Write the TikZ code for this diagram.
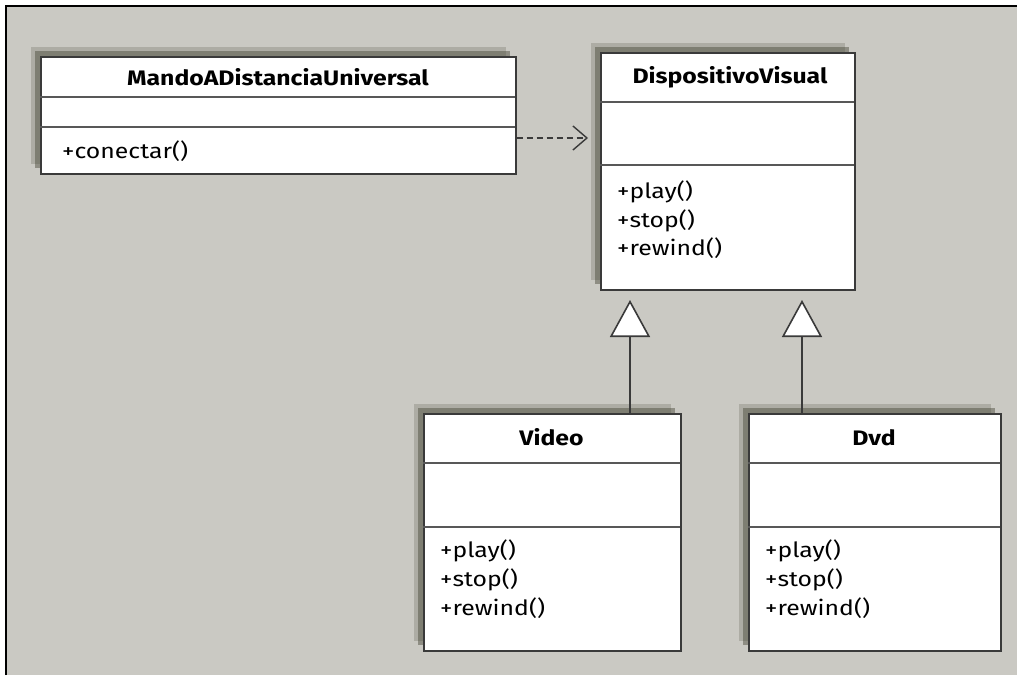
\documentclass[tikz,border=0pt]{standalone}
\usepackage{fontspec}
\setmainfont{Fira Sans}[FakeStretch=1.18]
\usetikzlibrary{arrows.meta,calc}
\definecolor{bg}{RGB}{202,201,195}
\definecolor{edge}{RGB}{58,58,58}
\definecolor{shd}{RGB}{70,70,55}
\tikzset{
  cls/.style={draw=edge, line width=1.6pt, fill=white, inner sep=0pt, anchor=north west, rectangle},
  ttl/.style={font=\bfseries\fontsize{21}{24}\selectfont, inner sep=0pt, anchor=base},
  mth/.style={font=\fontsize{21}{26}\selectfont, inner sep=0pt, anchor=base west},
  divline/.style={draw=edge!85, line width=1.3pt},
  conn/.style={draw=edge, line width=1.8pt},
  gen/.style={conn, -{Triangle[length=37pt,width=40pt,fill=white,line width=1.6pt]}},
  dep/.style={draw=edge, line width=1.4pt, dash pattern=on 6pt off 4pt, -{Straight Barb[length=14pt,width=24pt,line width=1.4pt]}},
}
\newcommand\boxshadow[4]{%
  \fill[shd, opacity=.22] (#1-9,#2-9) rectangle (#3-9,#4-9);
  \fill[shd, opacity=.45] (#1-5,#2-5) rectangle (#3-5,#4-5);}
\begin{document}
\begin{tikzpicture}[x=1pt,y=-1pt]
\useasboundingbox (0,0) rectangle (1017,675);
\fill[white] (0,0) rectangle (1017,675);
\fill[bg] (6,6) rectangle (1017,675);
\draw[black, line width=2.6pt] (6,675) -- (6,6) -- (1017,6);

% shadows
\boxshadow{40}{56}{515}{173}
\boxshadow{600}{52}{854}{289}
\boxshadow{423}{413}{680}{650}
\boxshadow{748}{413}{1000}{650}

% MandoADistanciaUniversal
\node[cls, minimum width=475pt, minimum height=117pt] (mando) at (40,56) {};
\draw[divline] (40,97) -- (515,97);
\draw[divline] (40,127) -- (515,127);
\node[ttl] (mandoT) at (278,85) {MandoADistanciaUniversal};
\node[mth] (mandoM1) at (62,158) {+conectar()};

% DispositivoVisual
\node[cls, minimum width=254pt, minimum height=237pt] (disp) at (600,52) {};
\draw[divline] (600,102) -- (854,102);
\draw[divline] (600,165) -- (854,165);
\node[ttl] (dispT) at (730,83) {DispositivoVisual};
\node[mth] (dispM1) at (617,198) {+play()};
\node[mth] (dispM2) at (617,227) {+stop()};
\node[mth] (dispM3) at (617,255) {+rewind()};

% Video
\node[cls, minimum width=257pt, minimum height=237pt] (video) at (423,413) {};
\draw[divline] (423,463) -- (680,463);
\draw[divline] (423,527) -- (680,527);
\node[ttl] (videoT) at (551.5,445) {Video};
\node[mth] (videoM1) at (440,557) {+play()};
\node[mth] (videoM2) at (440,586) {+stop()};
\node[mth] (videoM3) at (440,615) {+rewind()};

% Dvd
\node[cls, minimum width=252pt, minimum height=237pt] (dvd) at (748,413) {};
\draw[divline] (748,463) -- (1000,463);
\draw[divline] (748,527) -- (1000,527);
\node[ttl] (dvdT) at (874,445) {Dvd};
\node[mth] (dvdM1) at (765,557) {+play()};
\node[mth] (dvdM2) at (765,586) {+stop()};
\node[mth] (dvdM3) at (765,615) {+rewind()};

% connectors
\coordinate (depEnd) at (588,138);
\draw[dep] (mando.east |- depEnd) -- (depEnd);
\coordinate (g1) at (630,300);
\coordinate (g2) at (802,300);
\draw[gen] (g1 |- video.north) -- (g1);
\draw[gen] (g2 |- dvd.north) -- (g2);
\end{tikzpicture}
\end{document}
